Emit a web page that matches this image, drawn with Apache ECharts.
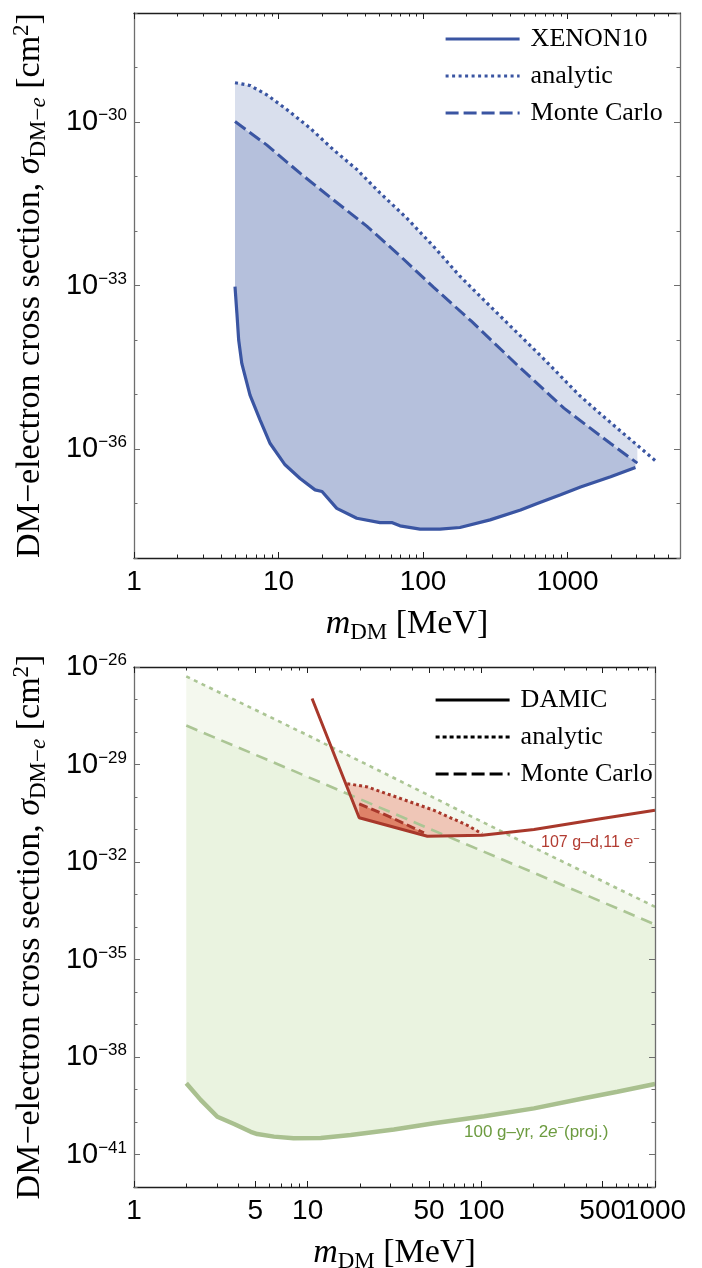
<!DOCTYPE html>
<html><head><meta charset="utf-8">
<script src="https://cdn.jsdelivr.net/npm/echarts@6/dist/echarts.min.js"></script>
<style>html,body{margin:0;padding:0;background:#fff}#c{width:702px;height:1268px}</style>
</head><body><div id="c"></div>
<script>
// ===== Top panel: XENON10 =====
const xenonMass  = [5.0, 5.15, 5.3, 5.57, 6.35, 7.46, 8.75, 11.1, 14.1, 17.9, 20, 25.3, 34.8, 50.4, 60.7, 69.3, 95.3, 131, 180, 291, 473, 617, 895, 1230, 1986, 2951];
const xenonSigma = [9.55e-34, 3.16e-34, 1.0e-34, 3.72e-35, 9.77e-36, 3.39e-36, 1.26e-36, 5.13e-37, 2.88e-37, 1.78e-37, 1.66e-37, 8.13e-38, 5.37e-38, 4.47e-38, 4.47e-38, 3.89e-38, 3.39e-38, 3.39e-38, 3.63e-38, 5.01e-38, 7.59e-38, 1.0e-37, 1.45e-37, 2.0e-37, 3.09e-37, 4.57e-37];
const xenonAnaMass  = [5, 6.35, 8.28, 11.4, 16.5, 24, 34.8, 50.4, 76.9, 118, 180, 262, 681, 1200, 1694, 4074];
const xenonAnaSigma = [5.25e-30, 4.68e-30, 3.16e-30, 1.70e-30, 7.76e-31, 3.09e-31, 1.35e-31, 5.0e-32, 1.74e-32, 5.25e-33, 1.48e-33, 5.5e-34, 4.57e-35, 9.8e-36, 4.37e-36, 6.03e-37];
const xenonMcMass  = [5, 8.28, 14.1, 24, 40.8, 69.5, 118, 217, 449, 944, 1986, 3041];
const xenonMcSigma = [1.02e-30, 3.8e-31, 1.15e-31, 3.72e-32, 1.23e-32, 3.47e-33, 9.33e-34, 2.19e-34, 3.47e-35, 5.62e-36, 1.26e-36, 5.5e-37];

// ===== Bottom panel: DAMIC =====
const damicMass  = [10.6, 19.8, 48.9, 101, 201, 486, 1000];
const damicSigma = [1.07e-27, 2.29e-31, 6.17e-32, 6.61e-32, 1.0e-31, 2.14e-31, 3.89e-31];
const damicAnaMass  = [16.9, 22.1, 34.4, 53.4, 83, 101];
const damicAnaSigma = [2.57e-30, 2.04e-30, 8.91e-31, 3.89e-31, 1.35e-31, 7.41e-32];
const damicMcMass  = [19.8, 30, 46.7];
const damicMcSigma = [6.17e-31, 2.4e-31, 7.94e-32];
const projMass  = [2, 2.42, 3.02, 3.77, 4.7, 5.13, 6.4, 8.3, 11.9, 17.7, 31.4, 53.4, 103.6, 201, 390, 607, 1000];
const projSigma = [1.55e-39, 4.79e-40, 1.45e-40, 8.71e-41, 5.01e-41, 4.27e-41, 3.55e-41, 3.16e-41, 3.24e-41, 3.98e-41, 5.89e-41, 9.12e-41, 1.51e-40, 2.63e-40, 5.37e-40, 8.51e-40, 1.48e-39];
const projAnaMass  = [2, 10, 50, 200, 1000];
const projAnaSigma = [5.13e-27, 7.94e-29, 1.12e-30, 2.82e-32, 4.17e-34];
const projMcMass  = [2, 10, 50, 200, 1000];
const projMcSigma = [1.58e-28, 4.17e-30, 1.07e-31, 4.68e-33, 1.20e-34];

// ===== Tick labels (values) =====
const topXLabels = [1, 10, 100, 1000];
const topYLabels = [1e-30, 1e-33, 1e-36];
const botXLabels = [1, 5, 10, 50, 100, 500, 1000];
const botYLabels = [1e-26, 1e-29, 1e-32, 1e-35, 1e-38, 1e-41];

// ---- helpers ----
const L = Math.log10;
function interpLL(xs, ys, x) {
  if (x <= xs[0]) return ys[0];
  for (let i = 0; i < xs.length - 1; i++) {
    if (x >= xs[i] && x <= xs[i + 1]) {
      const t = (L(x) - L(xs[i])) / (L(xs[i + 1]) - L(xs[i]));
      return Math.pow(10, L(ys[i]) + t * (L(ys[i + 1]) - L(ys[i])));
    }
  }
  return ys[ys.length - 1];
}
function clipCurve(xs, ys, x0, x1) {
  const pts = [[x0, interpLL(xs, ys, x0)]];
  xs.forEach((x, i) => { if (x > x0 && x < x1) pts.push([x, ys[i]]); });
  pts.push([x1, interpLL(xs, ys, x1)]);
  return pts;
}
function bandPoly(uX, uY, lX, lY) {
  const x0 = Math.max(uX[0], lX[0]), x1 = Math.min(uX[uX.length - 1], lX[lX.length - 1]);
  return clipCurve(uX, uY, x0, x1).concat(clipCurve(lX, lY, x0, x1).reverse());
}
const pairs = (xs, ys) => xs.map((x, i) => [x, ys[i]]);
// exponent positions for decoration axes (value axes laid out in log10 space)
const expo = arr => arr.map(v => L(v));
const evens = arr => arr.filter((v, i) => i % 2 === 0);
const odds = arr => arr.filter((v, i) => i % 2 === 1);
function decadeExps(lo, hi, skip) {
  const out = [], sk = expo(skip);
  for (let e = Math.round(L(lo)); e <= Math.round(L(hi)); e++) if (!sk.some(s => Math.abs(s - e) < 1e-6)) out.push(e);
  return out;
}
function minorExps(lo, hi, skip) {
  const out = [];
  for (let d = lo; d < hi; d *= 10) for (let k = 1; k <= 9; k++) {
    const v = k * d;
    if (v > lo && v < hi && !skip.some(s => Math.abs(s - v) < 1e-9)) out.push(L(v));
  }
  return out;
}

const SANS = 'Liberation Sans';
const SERIF = 'Liberation Serif';
const XC = '#1e1e1e', YC = '#6e6e6e';

function yLabelFmt(e) {
  e = Math.round(e);
  return '{b|10}{s|' + (e < 0 ? '\u2212' : '') + Math.abs(e) + '}';
}
const yRich = {
  b: { fontSize: 29, fontFamily: SANS, color: '#000', lineHeight: 30 },
  s: { fontSize: 17, fontFamily: SANS, color: '#000', lineHeight: 14, verticalAlign: 'top' }
};

// data axis (log scale, hidden) used by all series
function dataAxis(grid, min, max) {
  return { type: 'log', logBase: 10, gridIndex: grid, min: min, max: max, show: false,
    splitLine: { show: false }, axisPointer: { show: false } };
}
// frame / tick / label axis, laid out in decades (log10 of the same range)
function frameAxis(dim, grid, pos, min, max, ticks, len, withLine, labels) {
  const color = dim === 'x' ? XC : YC;
  const a = {
    type: 'value', gridIndex: grid, position: pos, min: L(min), max: L(max), z: 10, silent: true,
    axisLine: { show: withLine, onZero: false, lineStyle: { color: color, width: 1.3 } },
    axisTick: { show: true, inside: true, length: len, customValues: ticks, lineStyle: { color: color, width: 1 } },
    axisLabel: { show: false },
    splitLine: { show: false }, minorTick: { show: false }, minorSplitLine: { show: false },
    axisPointer: { show: false }
  };
  if (labels) {
    if (dim === 'x') {
      a.axisLabel = { show: true, customValues: labels, margin: 10, fontSize: 28, fontFamily: SANS, color: '#000',
        showMinLabel: true, showMaxLabel: true, hideOverlap: false,
        formatter: v => String(Math.round(Math.pow(10, v))) };
    } else {
      a.axisLabel = { show: true, customValues: labels, margin: 7, formatter: yLabelFmt, rich: yRich,
        showMinLabel: true, showMaxLabel: true, hideOverlap: false };
    }
  }
  return a;
}

const xName = '{m|m}{sub|DM}{t| [MeV]}';
const xNameStyle = { rich: {
  m: { fontFamily: SERIF, fontStyle: 'italic', fontSize: 34, color: '#000', lineHeight: 40 },
  sub: { fontFamily: SERIF, fontSize: 23, color: '#000', lineHeight: 26, verticalAlign: 'bottom' },
  t: { fontFamily: SERIF, fontSize: 34, color: '#000', lineHeight: 40 }
} };
const yName = '{t|DM\u2212electron cross section, }{i|\u03c3}{sub|DM\u2212}{subi|e}{t| [cm}{sup|2}{t|]}';
const yNameStyle = { rich: {
  t: { fontFamily: SERIF, fontSize: 34, color: '#000', lineHeight: 40 },
  i: { fontFamily: SERIF, fontStyle: 'italic', fontSize: 34, color: '#000', lineHeight: 40 },
  sub: { fontFamily: SERIF, fontSize: 23, color: '#000', lineHeight: 26, verticalAlign: 'bottom' },
  subi: { fontFamily: SERIF, fontStyle: 'italic', fontSize: 23, color: '#000', lineHeight: 26, verticalAlign: 'bottom' },
  sup: { fontFamily: SERIF, fontSize: 23, color: '#000', lineHeight: 26, verticalAlign: 'top' }
} };

const tXmin = 1, tXmax = 6000, tYmin = 1e-38, tYmax = 1e-28;
const bXmin = 1, bXmax = 1000, bYmin = 1e-42, bYmax = 1e-26;

// bottom x labels are split over two coincident axes so that the touching "500" and "1000" both stay visible
const xAxes = [
  dataAxis(0, tXmin, tXmax),                                                                  // 0
  frameAxis('x', 0, 'bottom', tXmin, tXmax, expo(topXLabels), 6, true, expo(topXLabels)),     // 1
  frameAxis('x', 0, 'bottom', tXmin, tXmax, minorExps(tXmin, tXmax, []), 3.5, false, null),  // 2
  frameAxis('x', 0, 'top', tXmin, tXmax, expo(topXLabels), 6, true, null),                    // 3
  frameAxis('x', 0, 'top', tXmin, tXmax, minorExps(tXmin, tXmax, []), 3.5, false, null),     // 4
  dataAxis(1, bXmin, bXmax),                                                                  // 5
  frameAxis('x', 1, 'bottom', bXmin, bXmax, expo(botXLabels), 6, true, expo(evens(botXLabels))),  // 6
  frameAxis('x', 1, 'bottom', bXmin, bXmax, minorExps(bXmin, bXmax, botXLabels), 3.5, false, expo(odds(botXLabels))),
  frameAxis('x', 1, 'top', bXmin, bXmax, expo(botXLabels), 6, true, null),
  frameAxis('x', 1, 'top', bXmin, bXmax, minorExps(bXmin, bXmax, botXLabels), 3.5, false, null)
];
const yAxes = [
  dataAxis(0, tYmin, tYmax),                                                                  // 0
  frameAxis('y', 0, 'left', tYmin, tYmax, expo(topYLabels), 6, true, expo(topYLabels)),       // 1
  frameAxis('y', 0, 'left', tYmin, tYmax, decadeExps(tYmin, tYmax, topYLabels), 3.5, false, null),
  frameAxis('y', 0, 'right', tYmin, tYmax, expo(topYLabels), 6, true, null),
  frameAxis('y', 0, 'right', tYmin, tYmax, decadeExps(tYmin, tYmax, topYLabels), 3.5, false, null),
  dataAxis(1, bYmin, bYmax),                                                                  // 5
  frameAxis('y', 1, 'left', bYmin, bYmax, expo(botYLabels), 6, true, expo(botYLabels)),       // 6
  frameAxis('y', 1, 'left', bYmin, bYmax, decadeExps(bYmin, bYmax, botYLabels), 3.5, false, null),
  frameAxis('y', 1, 'right', bYmin, bYmax, expo(botYLabels), 6, true, null),
  frameAxis('y', 1, 'right', bYmin, bYmax, decadeExps(bYmin, bYmax, botYLabels), 3.5, false, null)
];
[1, 6].forEach(i => Object.assign(xAxes[i], { name: xName, nameLocation: 'middle', nameGap: 46, nameTextStyle: xNameStyle }));
[1, 6].forEach(i => Object.assign(yAxes[i], { name: yName, nameLocation: 'middle', nameGap: 84, nameRotate: 90, nameTextStyle: yNameStyle }));

function fill(poly, color, xi, yi, z) {
  return { type: 'custom', coordinateSystem: 'cartesian2d', xAxisIndex: xi, yAxisIndex: yi, z: z, silent: true, clip: true,
    data: [poly[0]],
    renderItem: (params, api) => ({ type: 'polygon', shape: { points: poly.map(p => api.coord(p)) }, style: { fill: color } }) };
}
function line(name, xs, ys, color, width, type, xi, yi, z) {
  return { name: name, type: 'line', xAxisIndex: xi, yAxisIndex: yi, z: z, data: pairs(xs, ys), symbol: 'none',
    silent: true, lineStyle: { color: color, width: width, type: type, cap: 'butt' }, itemStyle: { color: color } };
}

const BLUE = '#3a55a2', RED = '#a8382b', GREEN = '#a9c08f', GREEN2 = '#abc594';
const DOT_T = [3, 3.5], DASH_T = [13, 5];

const series = [
  fill(bandPoly(xenonMcMass, xenonMcSigma, xenonMass, xenonSigma), '#b5c0dc', 0, 0, 1),
  fill(bandPoly(xenonAnaMass, xenonAnaSigma, xenonMcMass, xenonMcSigma), '#d9dfed', 0, 0, 1),
  line('XENON10', xenonMass, xenonSigma, BLUE, 3.2, 'solid', 0, 0, 4),
  line('XENON10 analytic', xenonAnaMass, xenonAnaSigma, BLUE, 3.2, DOT_T, 0, 0, 4),
  line('XENON10 Monte Carlo', xenonMcMass, xenonMcSigma, BLUE, 3, DASH_T, 0, 0, 4),

  fill(bandPoly(projMcMass, projMcSigma, projMass, projSigma), '#eaf3e0', 5, 5, 1),
  fill(bandPoly(projAnaMass, projAnaSigma, projMcMass, projMcSigma), '#f4f8ee', 5, 5, 1),
  fill(bandPoly(damicAnaMass, damicAnaSigma, damicMass, damicSigma), '#efc6b7', 5, 5, 2),
  fill(bandPoly(damicMcMass, damicMcSigma, damicMass, damicSigma), '#df8268', 5, 5, 2),
  line('proj', projMass, projSigma, GREEN, 4.5, 'solid', 5, 5, 3),
  line('proj analytic', projAnaMass, projAnaSigma, GREEN2, 2.6, [4, 4.5], 5, 5, 3),
  line('proj Monte Carlo', projMcMass, projMcSigma, GREEN2, 2.6, [12, 7], 5, 5, 3),
  line('DAMIC', damicMass, damicSigma, RED, 3, 'solid', 5, 5, 4),
  line('DAMIC analytic', damicAnaMass, damicAnaSigma, RED, 3, [3, 3], 5, 5, 4),
  line('DAMIC Monte Carlo', damicMcMass, damicMcSigma, RED, 3, [9, 4], 5, 5, 4)
];

const legendText = { 'XENON10': 'XENON10', 'XENON10 analytic': 'analytic', 'XENON10 Monte Carlo': 'Monte Carlo',
  'DAMIC': 'DAMIC', 'DAMIC analytic': 'analytic', 'DAMIC Monte Carlo': 'Monte Carlo' };
function legendItem(name, color, type, width) {
  return { name: name, itemStyle: { opacity: 0 }, lineStyle: { color: color, type: type, width: width, opacity: 1 } };
}
const legendBase = { orient: 'vertical', itemWidth: 74, itemHeight: 14, itemGap: 7, padding: 0, selectedMode: false,
  formatter: n => legendText[n],
  textStyle: { fontFamily: SERIF, fontSize: 26, color: '#000', lineHeight: 30, padding: [0, 0, 0, 6] } };

const option = {
  animation: false,
  backgroundColor: '#fff',
  grid: [
    { left: 134, top: 13, width: 546, height: 545, outerBoundsMode: 'none' },
    { left: 134, top: 667, width: 521, height: 520, outerBoundsMode: 'none' }
  ],
  xAxis: xAxes,
  yAxis: yAxes,
  legend: [
    Object.assign({}, legendBase, { left: 444, top: 24, data: [
      legendItem('XENON10', BLUE, 'solid', 3.2), legendItem('XENON10 analytic', BLUE, DOT_T, 3.2), legendItem('XENON10 Monte Carlo', BLUE, DASH_T, 3.2)] }),
    Object.assign({}, legendBase, { left: 434, top: 685, data: [
      legendItem('DAMIC', '#000', 'solid', 3.2), legendItem('DAMIC analytic', '#000', [4, 3], 3.2), legendItem('DAMIC Monte Carlo', '#000', DASH_T, 3.2)] })
  ],
  graphic: [
    { type: 'text', left: 541, top: 833, z: 20, silent: true, style: {
      text: '107 g\u2013d,11 {i|e}{s|\u2212}', fill: '#b23c32', font: '16px "Liberation Sans"',
      rich: { i: { fontStyle: 'italic', fontSize: 16, fontFamily: SANS, fill: '#b23c32', lineHeight: 20 },
              s: { fontSize: 11, fontFamily: SANS, fill: '#b23c32', lineHeight: 12, verticalAlign: 'top' } } } },
    { type: 'text', left: 464, top: 1122, z: 20, silent: true, style: {
      text: '100 g\u2013yr, 2{i|e}{s|\u2212}(proj.)', fill: '#6c9b3f', font: '17px "Liberation Sans"',
      rich: { i: { fontStyle: 'italic', fontSize: 17, fontFamily: SANS, fill: '#6c9b3f', lineHeight: 20 },
              s: { fontSize: 11, fontFamily: SANS, fill: '#6c9b3f', lineHeight: 12, verticalAlign: 'top' } } } }
  ],
  series: series
};

const chart = echarts.init(document.getElementById('c'), null, { renderer: 'canvas' });
chart.setOption(option);
</script>
</body></html>
